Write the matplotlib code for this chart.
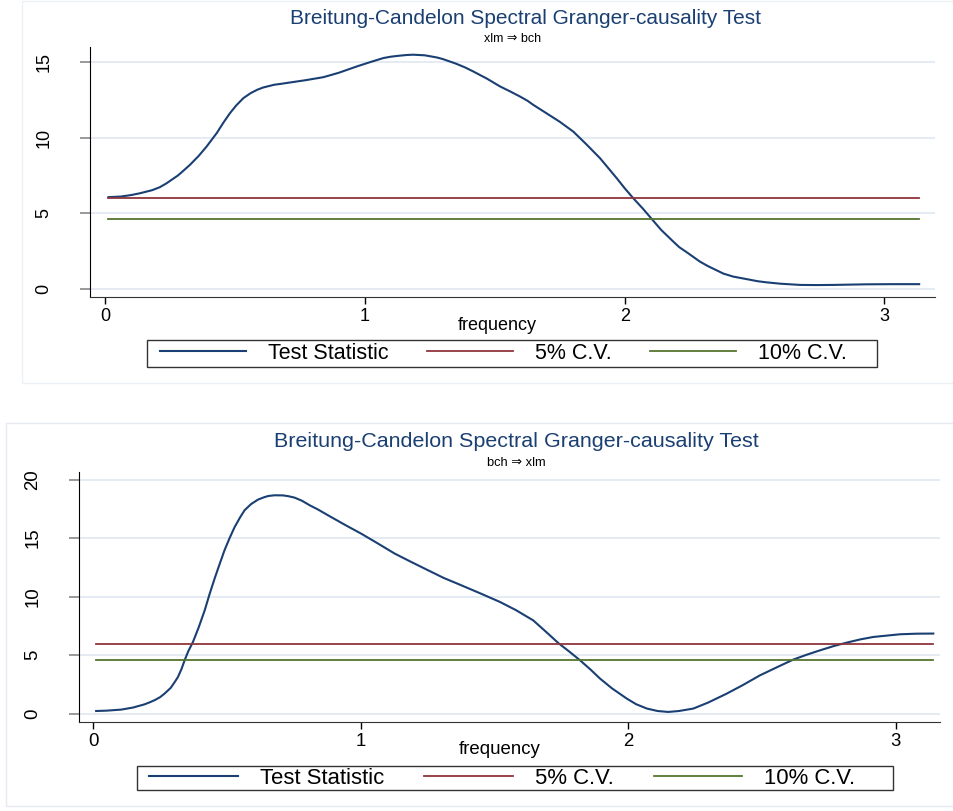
import numpy as np
import matplotlib
matplotlib.use('Agg')
import matplotlib.pyplot as plt
from matplotlib.patches import Rectangle

plt.rcParams['font.family'] = ['Liberation Sans', 'DejaVu Sans']

# xlm => bch
freq_top = [0.012, 0.06, 0.1, 0.134, 0.18, 0.21, 0.236, 0.28, 0.3, 0.326, 0.36, 0.39, 0.429,
            0.455, 0.48, 0.505, 0.532, 0.56, 0.585, 0.608, 0.65, 0.68, 0.711, 0.77, 0.839,
            0.87, 0.9, 0.968, 1.02, 1.071, 1.1, 1.13, 1.16, 1.186, 1.23, 1.276, 1.3, 1.35,
            1.385, 1.417, 1.47, 1.52, 1.56, 1.597, 1.625, 1.648, 1.7, 1.75, 1.802, 1.85,
            1.905, 1.97, 2.0, 2.033, 2.07, 2.104, 2.14, 2.187, 2.21, 2.24, 2.29, 2.32, 2.35,
            2.38, 2.418, 2.48, 2.51, 2.546, 2.6, 2.675, 2.74, 2.803, 2.931, 3.03, 3.134]
stat_top = [6.06, 6.1, 6.2, 6.32, 6.52, 6.72, 6.98, 7.5, 7.8, 8.2, 8.8, 9.41, 10.3,
            11.0, 11.62, 12.15, 12.62, 12.95, 13.17, 13.32, 13.5, 13.57, 13.65, 13.8, 14.0,
            14.15, 14.3, 14.71, 15.0, 15.27, 15.36, 15.42, 15.47, 15.49, 15.45, 15.31, 15.2, 14.9,
            14.65, 14.38, 13.9, 13.39, 13.05, 12.72, 12.45, 12.17, 11.6, 11.05, 10.4, 9.6,
            8.64, 7.3, 6.65, 5.99, 5.3, 4.62, 3.9, 3.12, 2.75, 2.4, 1.79, 1.5, 1.25,
            1.0, 0.8, 0.6, 0.5, 0.42, 0.33, 0.25, 0.24, 0.25, 0.29, 0.3, 0.3]

# bch => xlm
freq_bot = [0.011, 0.05, 0.105, 0.15, 0.192, 0.21, 0.23, 0.25, 0.267, 0.29, 0.305, 0.317,
            0.33, 0.342, 0.355, 0.373, 0.395, 0.417, 0.435, 0.454, 0.47, 0.491, 0.51, 0.529,
            0.55, 0.566, 0.59, 0.616, 0.64, 0.655, 0.678, 0.71, 0.73, 0.753, 0.78, 0.81,
            0.84, 0.878, 0.94, 1.002, 1.06, 1.127, 1.19, 1.252, 1.31, 1.376, 1.45, 1.521,
            1.58, 1.645, 1.69, 1.739, 1.78, 1.82, 1.86, 1.895, 1.94, 1.995, 2.03, 2.07, 2.11,
            2.15, 2.19, 2.244, 2.3, 2.369, 2.43, 2.493, 2.56, 2.618, 2.67, 2.718, 2.77, 2.818,
            2.87, 2.917, 3.017, 3.08, 3.141]
stat_bot = [0.22, 0.25, 0.34, 0.52, 0.79, 0.95, 1.15, 1.4, 1.71, 2.2, 2.7, 3.13,
            3.8, 4.56, 5.3, 6.12, 7.4, 8.83, 10.2, 11.54, 12.6, 13.96, 15.0, 15.95,
            16.8, 17.38, 17.9, 18.29, 18.5, 18.6, 18.66, 18.65, 18.58, 18.46, 18.2, 17.8,
            17.45, 16.95, 16.15, 15.38, 14.6, 13.68, 12.95, 12.25, 11.6, 10.97, 10.25, 9.54,
            8.85, 7.97, 7.05, 6.03, 5.3, 4.56, 3.75, 2.99, 2.15, 1.28, 0.8, 0.43, 0.22,
            0.14, 0.22, 0.43, 0.95, 1.71, 2.45, 3.27, 4.0, 4.62, 5.05, 5.41, 5.78, 6.07,
            6.35, 6.55, 6.78, 6.83, 6.84]

cv5 = 5.99
cv10 = 4.61

labels = ['Test Statistic', '5% C.V.', '10% C.V.']
navy = '#1a3f73'
maroon = '#90353b'
green = '#55752f'
gridc = '#e3e9f1'

W, H = 954, 811
fig = plt.figure(figsize=(W / 100, H / 100), dpi=100)


def px(x0, y0, x1, y1):
    return [x0 / W, 1 - y1 / H, (x1 - x0) / W, (y1 - y0) / H]


# faint panel frames
fig.add_artist(Rectangle((22 / W, 1 - 383 / H), (W - 22) / W, 382 / H, transform=fig.transFigure,
                         fill=False, edgecolor='#edf0f5', lw=1))
fig.add_artist(Rectangle((6 / W, 1 - 806 / H), (W - 6) / W, 383 / H, transform=fig.transFigure,
                         fill=False, edgecolor='#e6eaf2', lw=1))


def panel(rect, x, y, xlim, ylim, yticks, sub, title_xy, sub_xy, xlab_xy, leg_rect, leg_x0, fs=1.0):
    ax = fig.add_axes(px(*rect))
    ax.plot(x, y, color=navy, lw=1.5, label=labels[0])
    ax.plot([x[0], x[-1]], [cv5, cv5], color=maroon, lw=1.3, label=labels[1])
    ax.plot([x[0], x[-1]], [cv10, cv10], color=green, lw=1.3, label=labels[2])
    ax.set_xlim(*xlim)
    ax.set_ylim(*ylim)
    ax.set_xticks([0, 1, 2, 3])
    ax.set_yticks(yticks)
    ax.yaxis.grid(True, color=gridc, lw=1.3)
    ax.set_axisbelow(True)
    for s in ['top', 'right']:
        ax.spines[s].set_visible(False)
    ax.spines['left'].set_color('black')
    ax.spines['bottom'].set_color('#333333')
    ax.tick_params(axis='y', length=7, width=1.2, color='#888888', pad=20, labelsize=13 * fs)
    ax.tick_params(axis='x', length=5, width=1, color='black', pad=3, labelsize=13 * fs)
    for lab in ax.get_yticklabels():
        lab.set_rotation(90)
        lab.set_va('center')
    fig.text(title_xy[0] / W, 1 - title_xy[1] / H, 'Breitung-Candelon Spectral Granger-causality Test',
             ha='center', va='center', fontsize=15 * fs, color=navy)
    fig.text(sub_xy[0] / W, 1 - sub_xy[1] / H, sub, ha='center', va='center', fontsize=9 * fs,
             color='black')
    fig.text(xlab_xy[0] / W, 1 - xlab_xy[1] / H, 'frequency', ha='center',
             va='center', fontsize=13 * fs)
    # legend box drawn separately, entries placed from left
    fig.add_artist(Rectangle((leg_rect[0] / W, 1 - leg_rect[3] / H),
                             (leg_rect[2] - leg_rect[0]) / W, (leg_rect[3] - leg_rect[1]) / H,
                             transform=fig.transFigure, fill=False, edgecolor='#333333', lw=1.0))
    ax.legend(loc='center left', ncol=3,
              bbox_to_anchor=(leg_x0 / W, 1 - (leg_rect[1] + leg_rect[3]) / 2 / H),
              bbox_transform=fig.transFigure, frameon=False, fontsize=15.5 * fs,
              handlelength=4.0, handletextpad=1.0, borderaxespad=0, borderpad=0,
              columnspacing=1.8)
    return ax


panel((90, 47, 935, 297), freq_top, stat_top, (-0.059, 3.195), (-0.55, 16.0), [0, 5, 10, 15],
      'xlm \u21d2 bch', (526, 18), (513, 39), (497, 325), (147, 340, 877, 367), 160)
panel((79, 472, 940, 722), freq_bot, stat_bot, (-0.053, 3.166), (-0.72, 20.65), [0, 5, 10, 15, 20],
      'bch \u21d2 xlm', (516, 442), (516, 463), (500, 750), (137, 766, 893, 790), 149, fs=1.03)

fig.savefig('out.png', dpi=100, facecolor='white')
